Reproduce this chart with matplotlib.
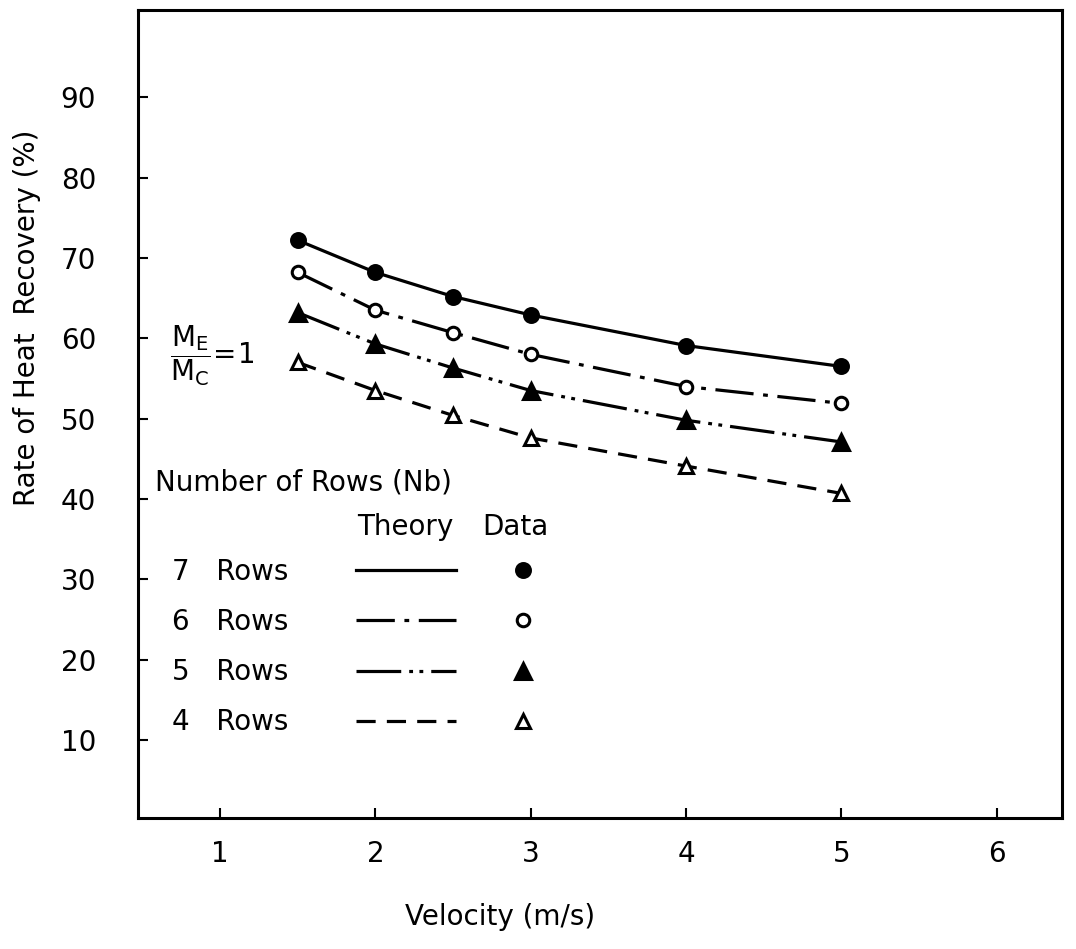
import matplotlib
matplotlib.use('Agg')
import matplotlib.pyplot as plt
from matplotlib.lines import Line2D
from matplotlib.legend_handler import HandlerTuple

plt.rcParams['font.family'] = ['DejaVu Sans']

# velocity (m/s)
velocity = [1.5, 2.0, 2.5, 3.0, 4.0, 5.0]

# rate of heat recovery (%)
rows7 = [72.2, 68.2, 65.2, 62.9, 59.1, 56.5]
rows6 = [68.2, 63.5, 60.7, 58.0, 54.0, 51.9]
rows5 = [63.2, 59.3, 56.3, 53.5, 49.8, 47.1]
rows4 = [57.0, 53.5, 50.4, 47.6, 44.1, 40.7]

row_labels = ['7   Rows', '6   Rows', '5   Rows', '4   Rows']
x_ticks = [1, 2, 3, 4, 5, 6]
y_ticks = [10, 20, 30, 40, 50, 60, 70, 80, 90]

series = [rows7, rows6, rows5, rows4]
dashes = [None, (12, 3, 1.5, 3), (14, 2.5, 1.2, 2, 1.2, 2.5), (6, 3.5)]
markers = [('o', 'k'), ('o', 'w'), ('^', 'k'), ('^', 'w')]
msizes = [10, 9, 11, 10]

fig = plt.figure(figsize=(10.76, 9.49), dpi=100)
ax = fig.add_axes([0.128, 0.138, 0.859, 0.851])

handles = []
for vals, ds, (mk, fc), ms in zip(series, dashes, markers, msizes):
    ln, = ax.plot(velocity, vals, color='k', lw=2.3)
    if ds is not None:
        ln.set_dashes(ds)
    ax.plot(velocity, vals, ls='none', marker=mk, ms=ms, mfc=fc, mec='k', mew=2.2)
    h_line = Line2D([], [], color='k', lw=2.3)
    if ds is not None:
        h_line.set_dashes(ds)
    h_mark = Line2D([], [], ls='none', marker=mk, ms=ms, mfc=fc, mec='k', mew=2.2)
    handles.append((h_line, h_mark))

ax.set_xlim(0.47, 6.42)
ax.set_ylim(0.3, 100.8)
ax.set_xticks(x_ticks)
ax.set_yticks(y_ticks)
ax.tick_params(axis='both', direction='in', length=7, width=1.5, labelsize=20)
ax.tick_params(axis='y', pad=30)
ax.tick_params(axis='x', pad=16)
for sp in ax.spines.values():
    sp.set_linewidth(2.2)

ax.set_xlabel('Velocity (m/s)', fontsize=20)
ax.xaxis.set_label_coords(0.392, -0.105)
ax.set_ylabel('Rate of Heat  Recovery (%)', fontsize=20)
ax.yaxis.set_label_coords(-0.105, 0.62)

ax.text(0.68, 57.8, r'$\dfrac{\mathrm{M_E}}{\mathrm{M_C}}\!=\!1$', fontsize=20,
        va='center', ha='left')
ax.text(0.58, 42.1, 'Number of Rows (Nb)', fontsize=20, va='center', ha='left')
ax.text(2.19, 36.5, 'Theory', fontsize=20, va='center', ha='center')
ax.text(2.90, 36.5, 'Data', fontsize=20, va='center', ha='center')

leg = ax.legend(handles, row_labels, handler_map={tuple: HandlerTuple(ndivide=None, pad=0.6)},
                loc='upper left', bbox_to_anchor=(0.025, 0.336), frameon=False,
                markerfirst=False, fontsize=20, handlelength=7.8,
                handletextpad=2.45, labelspacing=0.8, borderaxespad=0)

fig.savefig('out.png', dpi=100)
